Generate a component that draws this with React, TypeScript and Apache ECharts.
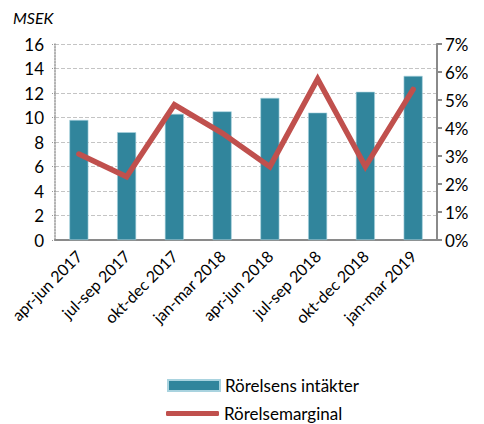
import React, { useEffect, useRef } from "react";
import * as echarts from "echarts";

const categories = [
  "apr-jun 2017",
  "jul-sep 2017",
  "okt-dec 2017",
  "jan-mar 2018",
  "apr-jun 2018",
  "jul-sep 2018",
  "okt-dec 2018",
  "jan-mar 2019",
];
const revenue = [9.8, 8.8, 10.3, 10.5, 11.6, 10.4, 12.1, 13.4];
const margin = [3.07, 2.26, 4.83, 3.82, 2.62, 5.75, 2.62, 5.38];
const barName = "Rörelsens intäkter";
const lineName = "Rörelsemarginal";
const unitLabel = "MSEK";

const FONT = "Lato, 'Open Sans', sans-serif";

export default function App() {
  const ref = useRef<HTMLDivElement>(null);
  useEffect(() => {
    if (!ref.current) return;
    const chart = echarts.init(ref.current, null, { renderer: "svg" });
    chart.setOption({
      animation: false,
      textStyle: { fontFamily: FONT },
      graphic: [
        {
          type: "text",
          left: 13,
          top: 9,
          style: {
            text: unitLabel,
            font: `italic 16px ${FONT}`,
            fill: "#000",
          },
        },
      ],
      grid: { left: 55, right: 47, top: 44, bottom: 184 },
      legend: [
        {
          data: [{ name: barName, icon: "rect" }],
          left: 162,
          top: 372,
          itemWidth: 52,
          itemHeight: 11,
          itemGap: 6,
          textStyle: { fontSize: 17, color: "#000", fontFamily: FONT },
        },
        {
          data: [{ name: lineName, icon: "roundRect" }],
          left: 161,
          top: 400,
          itemWidth: 53,
          itemHeight: 5,
          itemGap: 6,
          textStyle: { fontSize: 17, color: "#000", fontFamily: FONT },
        },
      ],
      xAxis: {
        type: "category",
        data: categories,
        axisLine: { show: true, lineStyle: { color: "#8a8a8a", width: 2 } },
        axisTick: { show: false },
        axisLabel: {
          rotate: 45,
          fontSize: 16,
          color: "#000",
          margin: 13,
          fontFamily: FONT,
          interval: 0,
        },
      },
      yAxis: [
        {
          type: "value",
          min: 0,
          max: 16,
          interval: 2,
          axisLine: {
            show: true,
            lineStyle: { color: "#999", type: "dotted", width: 1.5 },
          },
          axisTick: {
            show: true,
            length: 4,
            lineStyle: { color: "#999", type: "dotted" },
          },
          splitLine: {
            show: true,
            lineStyle: { color: "#c4c4c4", type: "dashed", width: 1 },
          },
          axisLabel: { fontSize: 17, color: "#000", margin: 11, fontFamily: FONT },
        },
        {
          type: "value",
          min: 0,
          max: 7,
          interval: 1,
          position: "right",
          axisLine: { show: true, lineStyle: { color: "#8a8a8a", width: 2 } },
          axisTick: { show: true, length: 5, lineStyle: { color: "#8a8a8a", width: 2 } },
          splitLine: { show: false },
          axisLabel: {
            fontSize: 17,
            color: "#000",
            margin: 8,
            fontFamily: FONT,
            formatter: (v: number) => `${v}%`,
          },
        },
      ],
      series: [
        {
          name: barName,
          type: "bar",
          data: revenue,
          barWidth: 19,
          itemStyle: { color: "#31859c", borderColor: "#a9d3df", borderWidth: 0.6 },
        },
        {
          name: lineName,
          type: "line",
          yAxisIndex: 1,
          data: margin,
          symbol: "none",
          lineStyle: { color: "#c0504d", width: 5.5, cap: "round", join: "miter" },
          itemStyle: { color: "#c0504d" },
        },
      ],
    });
    return () => chart.dispose();
  }, []);
  return (
    <div
      ref={ref}
      style={{ position: "absolute", left: 0, top: 0, width: 484, height: 424 }}
    />
  );
}
